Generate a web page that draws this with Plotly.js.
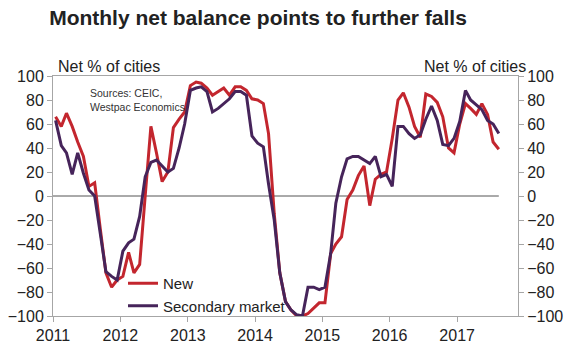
<!DOCTYPE html>
<html><head><meta charset="utf-8">
<script src="https://cdn.plot.ly/plotly-3.0.1.min.js"></script>
<style>html,body{margin:0;padding:0;background:#fff}#chart{width:580px;height:352px}</style>
</head><body><div id="chart"></div>
<script>
const startYear = 2011;
const newValues = [
  66, 58, 69, 58, 45, 33, 8, 11, -28, -64, -76, -70,
  -67, -47, -64, -57, 0, 58, 36, 12, 20, 57, 64, 70,
  92, 95, 94, 90, 84, 87, 90, 84, 91, 91, 88, 81,
  80, 77, 52, -15, -64, -88, -95, -100, -100, -98, -93, -89,
  -89, -48, -40, -34, -3, 5, 17, 25, -8, 14, 18, 20,
  48, 80, 86, 74, 58, 49, 85, 83, 78, 66, 40, 36,
  60, 77, 73, 68, 77, 68, 45, 39
];
const secondaryValues = [
  63, 42, 36, 18, 36, 19, 5, 0, -32, -63, -67, -70,
  -46, -39, -36, -17, 16, 28, 30, 25, 20, 23, 40, 60,
  88, 90, 91, 87, 70, 73, 77, 81, 87, 87, 84, 50,
  44, 41, 10, -20, -64, -88, -95, -99, -100, -76, -76, -78,
  -76, -48, -6, 16, 31, 33, 33, 30, 27, 33, 16, 18,
  8, 58, 58, 52, 48, 51, 64, 75, 63, 43, 42, 48,
  62, 88, 80, 76, 72, 63, 60, 52
];
const seriesNames = ['New', 'Secondary market'];
const yearLabels = ['2011', '2012', '2013', '2014', '2015', '2016', '2017'];
const yTickValues = [-100, -80, -60, -40, -20, 0, 20, 40, 60, 80, 100];

const dates = newValues.map((_, i) => {
  const y = startYear + Math.floor(i / 12);
  const m = (i % 12) + 1;
  return y + '-' + String(m).padStart(2, '0') + '-15';
});

const RED = '#c3262e';
const PURPLE = '#46245a';
const font = 'Liberation Sans, Arial, sans-serif';

const traces = [
  {x: dates, y: newValues, name: seriesNames[0], type: 'scatter', mode: 'lines',
   line: {color: RED, width: 3}},
  {x: dates, y: secondaryValues, name: seriesNames[1], type: 'scatter', mode: 'lines',
   line: {color: PURPLE, width: 3}},
  {x: dates, y: secondaryValues, yaxis: 'y2', type: 'scatter', mode: 'lines',
   line: {width: 0}, hoverinfo: 'skip', showlegend: false, opacity: 0}
];

const axisGray = '#a6a6a6';
const layout = {
  width: 580, height: 352,
  margin: {l: 53, r: 62, t: 76, b: 36},
  paper_bgcolor: '#fff', plot_bgcolor: '#fff',
  font: {family: font, color: '#222', size: 16},
  title: {text: '<b>Monthly net balance points to further falls</b>',
    font: {family: font, size: 21, color: '#222'},
    x: 258 / 580, xanchor: 'center', xref: 'container',
    y: 1 - 18 / 352, yanchor: 'middle', yref: 'container'},
  showlegend: true,
  legend: {x: (123 - 53) / 465, xanchor: 'left', y: (316 - 267) / 240, yanchor: 'top',
    bgcolor: 'rgba(0,0,0,0)', font: {size: 15, color: '#222'}, itemwidth: 30,
    tracegroupgap: 0},
  xaxis: {type: 'date', range: ['2011-01-01', '2017-11-27'],
    tickvals: yearLabels.map(y => y + '-01-01'), ticktext: yearLabels,
    showgrid: false, zeroline: false, showline: true, linecolor: axisGray, linewidth: 1,
    mirror: true, ticks: 'outside', ticklen: 5, tickcolor: axisGray,
    tickfont: {size: 16, color: '#222'}},
  yaxis: {range: [-100, 100], tickvals: yTickValues, showgrid: false, zeroline: false,
    showline: true, linecolor: axisGray, ticks: 'outside', ticklen: 5, tickcolor: axisGray,
    tickfont: {size: 16, color: '#222'}},
  yaxis2: {range: [-100, 100], tickvals: yTickValues, overlaying: 'y', side: 'right',
    showgrid: false, zeroline: false, showline: true, linecolor: axisGray,
    ticks: 'outside', ticklen: 5, tickcolor: axisGray, tickfont: {size: 16, color: '#222'}},
  shapes: [{type: 'line', xref: 'x', yref: 'y', x0: '2011-01-01', x1: dates[dates.length - 1],
    y0: 0, y1: 0, line: {color: '#555', width: 1}, layer: 'below'}],
  annotations: [
    {text: 'Net % of cities', xref: 'paper', yref: 'paper', x: 0.006, y: 1 + 9 / 240,
     xanchor: 'left', yanchor: 'middle', showarrow: false, font: {size: 16, color: '#222'}},
    {text: 'Net % of cities', xref: 'paper', yref: 'paper', x: 1.022, y: 1 + 9 / 240,
     xanchor: 'right', yanchor: 'middle', showarrow: false, font: {size: 16, color: '#222'}},
    {text: 'Sources: CEIC,<br>Westpac Economics', xref: 'paper', yref: 'paper',
     x: (88 - 53) / 465, y: (316 - 85) / 240, xanchor: 'left', yanchor: 'top', align: 'left',
     showarrow: false, font: {size: 10.5, color: '#333'}}
  ]
};

Plotly.newPlot('chart', traces, layout, {displayModeBar: false, staticPlot: true});
</script></body></html>
